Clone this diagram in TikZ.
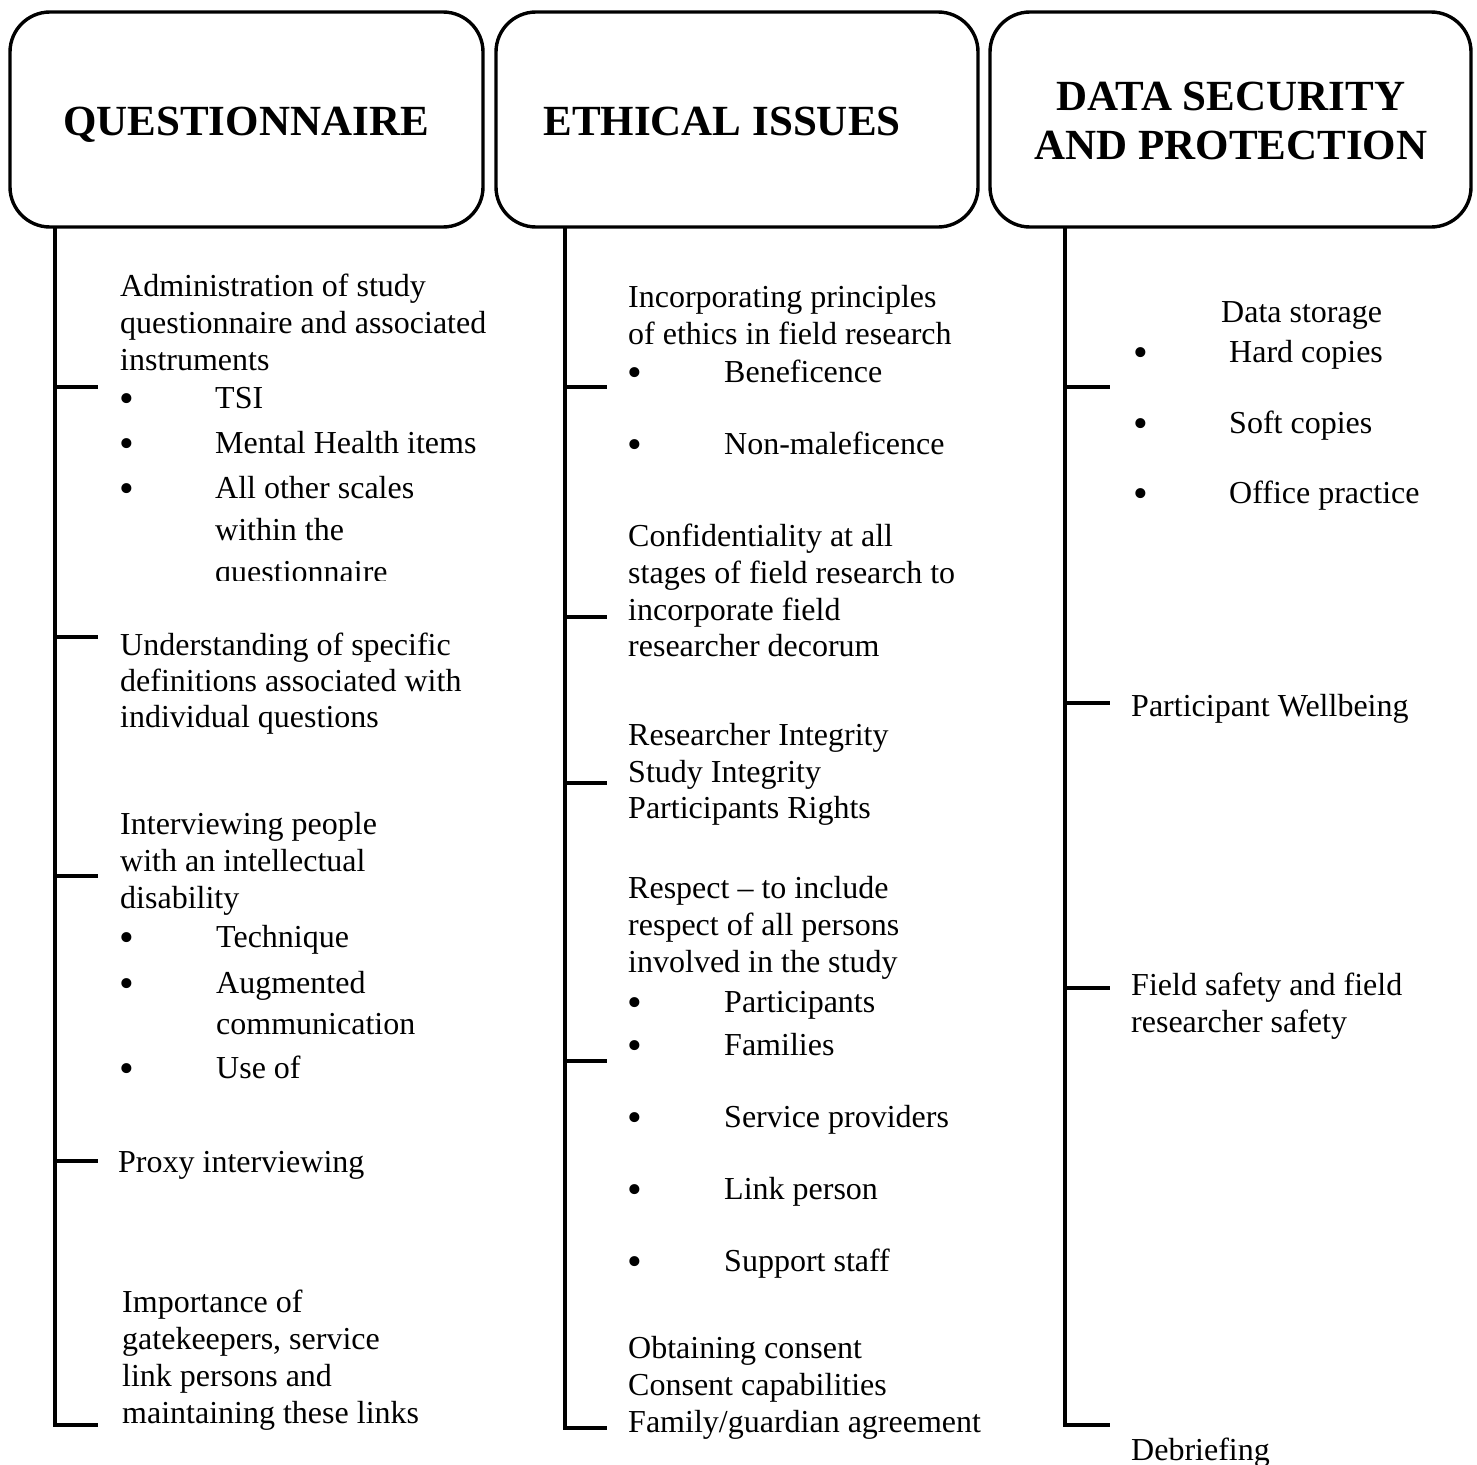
\documentclass[tikz,border=0pt]{standalone}
\usepackage{fontspec}
\setmainfont{Liberation Serif}
\begin{document}
\begin{tikzpicture}[x=1pt,y=-1pt,
  line/.style={line width=3.6pt},
  head/.style={draw,line width=3.4pt,rounded corners=40pt},
  title/.style={anchor=base,inner sep=0pt,font=\fontsize{43}{49}\selectfont\bfseries},
  txt/.style={anchor=base west,inner sep=0pt,font=\fontsize{32}{37}\selectfont},
  dot/.style={anchor=base west,inner sep=0pt,font=\fontsize{42}{42}\selectfont,yshift=-4pt},
]
\useasboundingbox (0,0) rectangle (1477,1464);

% --- header boxes ---------------------------------------------------------
\draw[head] (10,12) rectangle (483,227);
\draw[head] (496,12) rectangle (978,227);
\draw[head] (990,12) rectangle (1471,227);
\node[title] (tq) at (246,135) {QUESTIONNAIRE};
\node[title] (te) at (722,135) {ETHICAL ISSUES};
\node[title] (td1) at (1231,110) {DATA SECURITY};
\node[title] (td2) at (1231,159) {AND PROTECTION};

\coordinate (q0) at (55,227);
\coordinate (e0) at (565,227);
\coordinate (d0) at (1065,227);

% --- spines and branches ------------------------------------------------
\foreach \n/\y in {1/387,2/637,3/876,4/1161}
  \coordinate (qt\n) at (98,\y);
\coordinate (qb) at (55,1425);   \coordinate (qt5) at (98,1425);
\draw[line] (q0) -- (qb) -- (qt5);
\foreach \n in {1,...,4} \draw[line] (qt\n -| q0) -- (qt\n);

\foreach \n/\y in {1/387,2/617,3/783,4/1061}
  \coordinate (et\n) at (607,\y);
\coordinate (eb) at (565,1428);  \coordinate (et5) at (607,1428);
\draw[line] (e0) -- (eb) -- (et5);
\foreach \n in {1,...,4} \draw[line] (et\n -| e0) -- (et\n);

\foreach \n/\y in {1/387,2/703,3/988}
  \coordinate (dt\n) at (1110,\y);
\coordinate (db) at (1065,1425); \coordinate (dt4) at (1110,1425);
\draw[line] (d0) -- (db) -- (dt4);
\foreach \n in {1,...,3} \draw[line] (dt\n -| d0) -- (dt\n);

% --- QUESTIONNAIRE column ------------------------------------------------
\node[txt] (qa1) at (120,296) {Administration of study};
\node[txt] (qa2) at (120,333) {questionnaire and associated};
\node[txt] (qa3) at (120,370) {instruments};
\node[dot] (qab1) at (119,408) {•};
\node[txt] (qa4) at (215,408) {TSI};
\node[dot] (qab2) at (119,453) {•};
\node[txt] (qa5) at (215,453) {Mental Health items};
\node[dot] (qab3) at (119,498) {•};
\node[txt] (qa6) at (215,498) {All other scales};
\node[txt] (qa7) at (215,540) {within the};
\begin{scope}
  \clip (100,540) rectangle (500,580);
  \node[txt] (qa8) at (215,582) {questionnaire};
\end{scope}

\node[txt] (qu1) at (120,655) {Understanding of specific};
\node[txt] (qu2) at (120,691) {definitions associated with};
\node[txt] (qu3) at (120,727) {individual questions};

\node[txt] (qi1) at (120,834) {Interviewing people};
\node[txt] (qi2) at (120,871) {with an intellectual};
\node[txt] (qi3) at (120,908) {disability};
\node[dot] (qib1) at (119,947) {•};
\node[txt] (qi4) at (216,947) {Technique};
\node[dot] (qib2) at (119,993) {•};
\node[txt] (qi5) at (216,993) {Augmented};
\node[txt] (qi6) at (216,1034) {communication};
\node[dot] (qib3) at (119,1078) {•};
\node[txt] (qi7) at (216,1078) {Use of};

\node[txt] (qp1) at (118,1172) {Proxy interviewing};

\node[txt] (qg1) at (122,1312) {Importance of};
\node[txt] (qg2) at (122,1349) {gatekeepers, service};
\node[txt] (qg3) at (122,1386) {link persons and};
\node[txt] (qg4) at (122,1423) {maintaining these links};

% --- ETHICAL ISSUES column -----------------------------------------------
\node[txt] (ep1) at (628,307) {Incorporating principles};
\node[txt] (ep2) at (628,344) {of ethics in field research};
\node[dot] (epb1) at (627,382) {•};
\node[txt] (ep3) at (724,382) {Beneficence};
\node[dot] (epb2) at (627,454) {•};
\node[txt] (ep4) at (724,454) {Non-maleficence};

\node[txt] (ec1) at (628,546) {Confidentiality at all};
\node[txt] (ec2) at (628,583) {stages of field research to};
\node[txt] (ec3) at (628,620) {incorporate field};
\node[txt] (ec4) at (628,656) {researcher decorum};

\node[txt] (ei1) at (628,745) {Researcher Integrity};
\node[txt] (ei2) at (628,782) {Study Integrity};
\node[txt] (ei3) at (628,818) {Participants Rights};

\node[txt] (er1) at (628,898) {Respect – to include};
\node[txt] (er2) at (628,935) {respect of all persons};
\node[txt] (er3) at (628,972) {involved in the study};
\node[dot] (erb1) at (627,1012) {•};
\node[txt] (er4) at (724,1012) {Participants};
\node[dot] (erb2) at (627,1055) {•};
\node[txt] (er5) at (724,1055) {Families};
\node[dot] (erb3) at (627,1127) {•};
\node[txt] (er6) at (724,1127) {Service providers};
\node[dot] (erb4) at (627,1199) {•};
\node[txt] (er7) at (724,1199) {Link person};
\node[dot] (erb5) at (627,1271) {•};
\node[txt] (er8) at (724,1271) {Support staff};

\node[txt] (eo1) at (628,1358) {Obtaining consent};
\node[txt] (eo2) at (628,1395) {Consent capabilities};
\node[txt] (eo3) at (628,1432) {Family/guardian agreement};

% --- DATA SECURITY column ------------------------------------------------
\node[txt] (ds1) at (1221,322) {Data storage};
\node[dot] (dsb1) at (1133,362) {•};
\node[txt] (ds2) at (1229,362) {Hard copies};
\node[dot] (dsb2) at (1133,433) {•};
\node[txt] (ds3) at (1229,433) {Soft copies};
\node[dot] (dsb3) at (1133,503) {•};
\node[txt] (ds4) at (1229,503) {Office practice};

\node[txt] (dw1) at (1131,716) {Participant Wellbeing};
\node[txt] (df1) at (1131,995) {Field safety and field};
\node[txt] (df2) at (1131,1032) {researcher safety};
\node[txt] (dd1) at (1131,1460) {Debriefing};
\end{tikzpicture}
\end{document}
